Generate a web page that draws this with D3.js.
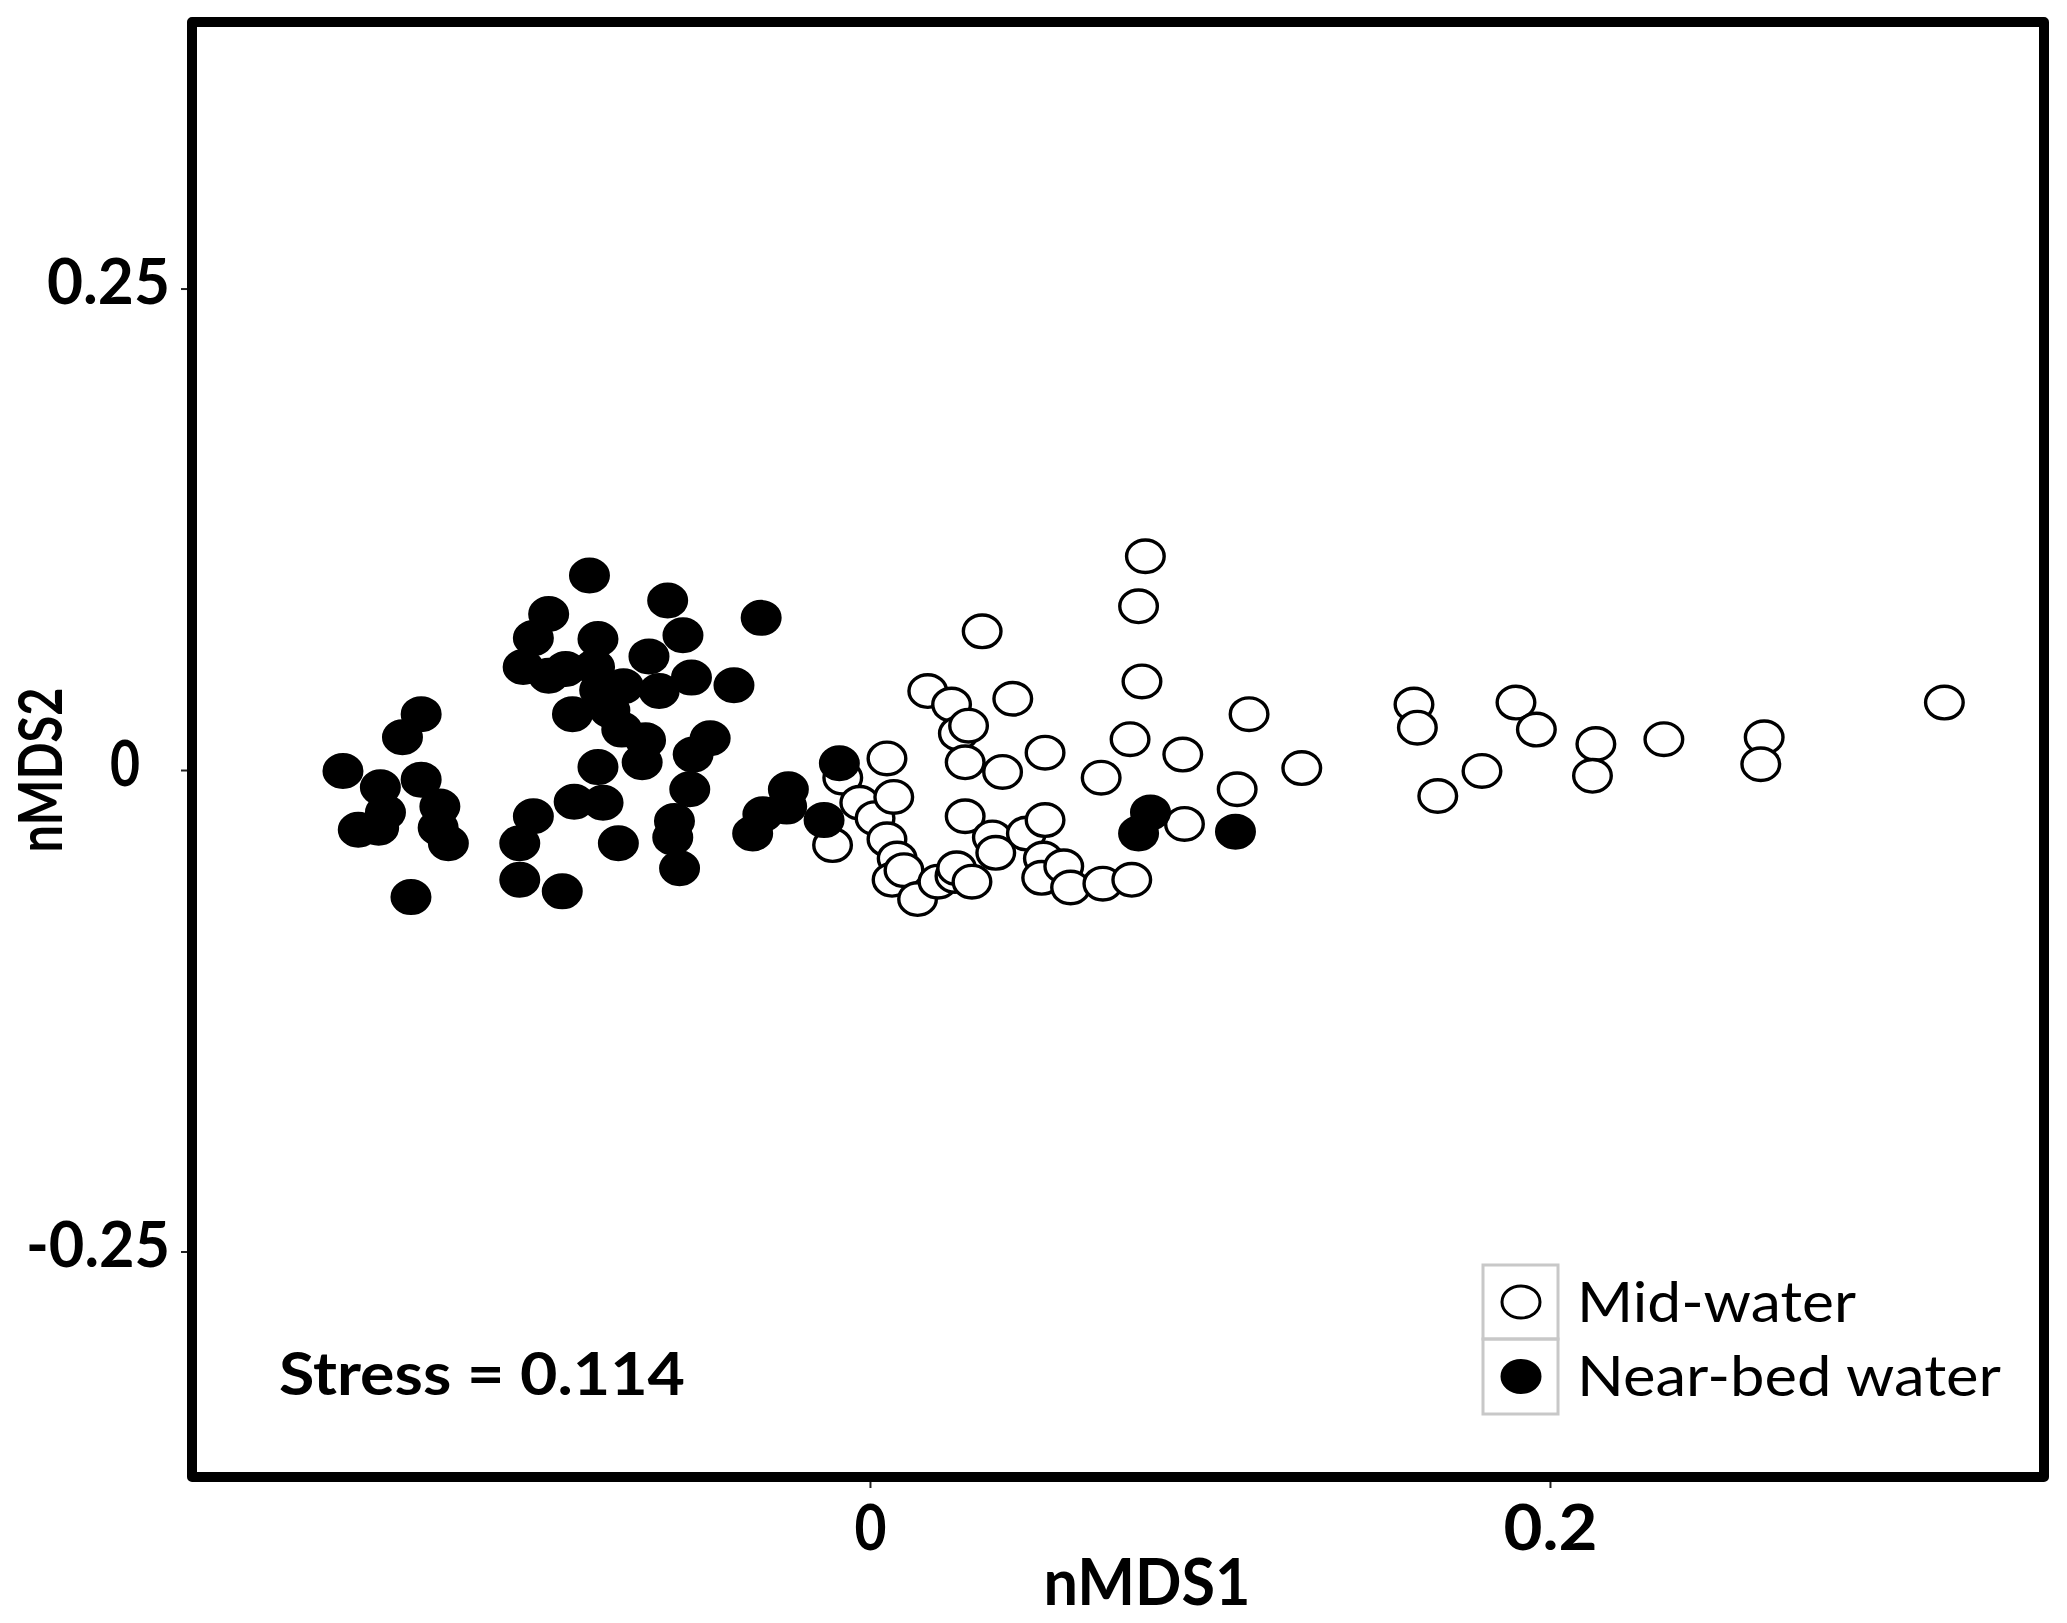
<!DOCTYPE html>
<html>
<head>
<meta charset="utf-8">
<script src="https://cdn.jsdelivr.net/npm/d3@7/dist/d3.min.js"></script>
<style>
  html, body { margin: 0; padding: 0; background: #fff; }
  svg { display: block; }
  text { font-family: "Lato", "Open Sans", sans-serif; fill: #000; }
</style>
</head>
<body>
<script>
// ---- data (nMDS1, nMDS2) ----
const midWater = [
  [-0.008,-0.004],[-0.011,-0.039],[-0.003,-0.017],[0.0015,-0.025],[0.005,0.006],
  [0.007,-0.014],[0.005,-0.036],[0.008,-0.046],[0.0065,-0.057],[0.010,-0.052],
  [0.014,-0.067],[0.017,0.041],[0.020,-0.058],[0.024,0.034],[0.026,0.019],
  [0.029,0.023],[0.028,-0.024],[0.028,0.004],[0.025,-0.055],[0.0255,-0.051],
  [0.030,-0.058],[0.033,0.072],[0.036,-0.035],[0.037,-0.043],[0.039,-0.001],
  [0.042,0.037],[0.046,-0.033],[0.0515,0.009],[0.0515,-0.026],[0.051,-0.046],
  [0.0505,-0.056],[0.057,-0.050],[0.059,-0.061],[0.068,-0.004],[0.0685,-0.059],
  [0.0765,0.016],[0.077,-0.057],[0.081,0.111],[0.079,0.085],[0.080,0.046],
  [0.092,0.008],[0.0925,-0.028],[0.108,-0.010],[0.1115,0.029],[0.127,0.001],
  [0.160,0.034],[0.161,0.022],[0.167,-0.0135],[0.180,-0.0005],[0.190,0.035],
  [0.196,0.021],[0.2135,0.0135],[0.2125,-0.003],[0.2335,0.016],[0.263,0.017],
  [0.262,0.003],[0.316,0.035]
];
const nearBed = [
  [-0.155,-0.0005],[-0.144,-0.009],[-0.132,-0.005],[-0.1265,-0.019],[-0.1425,-0.022],
  [-0.1505,-0.031],[-0.1445,-0.030],[-0.127,-0.030],[-0.124,-0.038],[-0.1375,0.017],
  [-0.132,0.029],[-0.135,-0.066],[-0.099,-0.024],[-0.103,-0.038],[-0.103,-0.057],
  [-0.0905,-0.063],[-0.0825,0.101],[-0.0595,0.088],[-0.0945,0.081],[-0.055,0.070],
  [-0.099,0.0685],[-0.080,0.068],[-0.065,0.059],[-0.102,0.0535],[-0.0945,0.049],
  [-0.0895,0.0525],[-0.081,0.0535],[-0.0525,0.048],[-0.0725,0.0435],[-0.062,0.041],
  [-0.0795,0.0415],[-0.0765,0.031],[-0.0875,0.029],[-0.073,0.021],[-0.066,0.0155],
  [-0.067,0.004],[-0.047,0.0165],[-0.052,0.008],[-0.080,0.0015],[-0.087,-0.0165],
  [-0.0785,-0.017],[-0.053,-0.010],[-0.0575,-0.0265],[-0.058,-0.035],[-0.074,-0.038],
  [-0.056,-0.051],[-0.032,0.079],[-0.040,0.044],[-0.009,0.0035],[-0.024,-0.010],
  [-0.0245,-0.019],[-0.0315,-0.023],[-0.0345,-0.033],[-0.0135,-0.026],[0.0825,-0.022],
  [0.079,-0.033],[0.1075,-0.032]
];
const xTicks = [0, 0.2];
const xTickLabels = ["0", "0.2"];
const yTicks = [0.25, 0, -0.25];
const yTickLabels = ["0.25", "0", "-0.25"];
const seriesNames = ["Mid-water", "Near-bed water"];
const xTitle = "nMDS1", yTitle = "nMDS2", stressLabel = "Stress = 0.114";

// ---- layout ----
const W = 2067, H = 1623;
const L = 192, T = 22, R = 2044, B = 1477;
const svg = d3.select("body").append("svg").attr("width", W).attr("height", H);
svg.append("rect").attr("width", W).attr("height", H).attr("fill", "#fff");

const x = d3.scaleLinear().domain([-0.1994, 0.3453]).range([L, R]);
const y = d3.scaleLinear().domain([-0.3671, 0.3884]).range([B, T]);

// axes
const gy = svg.append("g").attr("transform", `translate(${L},0)`)
  .call(d3.axisLeft(y).tickValues(yTicks).tickSize(11)
    .tickFormat((d, i) => yTickLabels[i]));
gy.select(".domain").remove();
gy.selectAll(".tick line").attr("stroke", "#222").attr("stroke-width", 2);
const yLabelW = {"0.25": 123, "0": 30, "-0.25": 144};
gy.selectAll(".tick text")
  .attr("x", (d, i) => yTickLabels[i] === "0" ? -52 : -22)
  .attr("dy", null).attr("y", 15)
  .attr("text-anchor", "end")
  .style("font-family", "Lato, 'Open Sans', sans-serif")
  .style("font-weight", "bold").style("font-size", "63px").attr("fill", "#000")
  .attr("textLength", (d, i) => yLabelW[yTickLabels[i]])
  .attr("lengthAdjust", "spacingAndGlyphs");

const gx = svg.append("g").attr("transform", `translate(0,${B})`)
  .call(d3.axisBottom(x).tickValues(xTicks).tickSize(11)
    .tickFormat((d, i) => xTickLabels[i]));
gx.select(".domain").remove();
gx.selectAll(".tick line").attr("stroke", "#222").attr("stroke-width", 2);
const xLabelW = {"0": 32, "0.2": 94};
gx.selectAll(".tick text")
  .attr("dy", null).attr("y", 73)
  .attr("text-anchor", "middle")
  .style("font-family", "Lato, 'Open Sans', sans-serif")
  .style("font-weight", "bold").style("font-size", "63px").attr("fill", "#000")
  .attr("textLength", (d, i) => xLabelW[xTickLabels[i]])
  .attr("lengthAdjust", "spacingAndGlyphs");

// axis titles
svg.append("text").attr("x", 1147).attr("y", 1605).attr("text-anchor", "middle")
  .style("font-weight", "bold").style("font-size", "65px")
  .attr("textLength", 207).attr("lengthAdjust", "spacingAndGlyphs").text(xTitle);
svg.append("text").attr("transform", `translate(62,${y(0)}) rotate(-90)`)
  .attr("text-anchor", "middle")
  .style("font-weight", "bold").style("font-size", "62px")
  .attr("textLength", 165).attr("lengthAdjust", "spacingAndGlyphs").text(yTitle);

// points
const RX = 18.8, RY = 16.3, SW = 3.4;
svg.append("g").selectAll("ellipse").data(midWater).join("ellipse")
  .attr("cx", d => x(d[0])).attr("cy", d => y(d[1]))
  .attr("rx", RX).attr("ry", RY)
  .attr("fill", "#fff").attr("stroke", "#000").attr("stroke-width", SW);
svg.append("g").selectAll("ellipse").data(nearBed).join("ellipse")
  .attr("cx", d => x(d[0])).attr("cy", d => y(d[1]))
  .attr("rx", RX).attr("ry", RY)
  .attr("fill", "#000").attr("stroke", "#000").attr("stroke-width", SW);

// stress
svg.append("text").attr("x", 279).attr("y", 1395)
  .style("font-weight", "bold").style("font-size", "60px")
  .attr("textLength", 406).attr("lengthAdjust", "spacingAndGlyphs").text(stressLabel);

// legend
const lg = svg.append("g");
const cellX = 1483, cellW = 75, cellY = [1265, 1339], cellH = [74, 75];
const legendFill = ["#fff", "#000"];
const legendBase = [1322, 1396];
const legendW = [279, 424];
seriesNames.forEach((name, i) => {
  lg.append("rect").attr("x", cellX).attr("y", cellY[i]).attr("width", cellW).attr("height", cellH[i])
    .attr("fill", "none").attr("stroke", "#c8c8c8").attr("stroke-width", 3);
  lg.append("ellipse").attr("cx", cellX + cellW / 2 + 0.5).attr("cy", cellY[i] + cellH[i] / 2)
    .attr("rx", 19).attr("ry", 16).attr("fill", legendFill[i])
    .attr("stroke", "#000").attr("stroke-width", 3);
  lg.append("text").attr("x", 1577).attr("y", legendBase[i])
    .style("font-size", "56px")
    .attr("textLength", legendW[i]).attr("lengthAdjust", "spacingAndGlyphs").text(name);
});

// frame
svg.append("rect").attr("x", L).attr("y", T).attr("width", R - L).attr("height", B - T)
  .attr("fill", "none").attr("stroke", "#000").attr("stroke-width", 10)
  .attr("stroke-linejoin", "round");
</script>
</body>
</html>
